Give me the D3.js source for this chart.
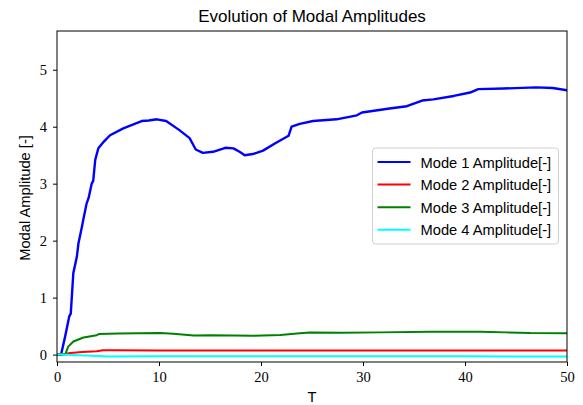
<!DOCTYPE html>
<html>
<head>
<meta charset="utf-8">
<script src="https://cdn.jsdelivr.net/npm/d3@7"></script>
<style>
  html, body { margin: 0; padding: 0; background: #fff; }
  svg { display: block; }
</style>
</head>
<body>
<svg id="chart" width="583" height="405"></svg>
<script>
// Modal amplitude histories over time T
const mode1T   = [0, 0.4, 0.8, 1.2, 1.35, 1.6, 1.95, 2.1, 2.45, 2.6, 2.9, 3.1, 3.4, 3.55, 3.75, 4.05, 4.5, 5.2, 6.5, 8.3, 9.0, 9.8, 10.7, 12.0, 13.0, 13.3, 13.6, 14.3, 15.3, 16.5, 17.3, 17.9, 18.4, 19.2, 20.2, 21.4, 22.7, 23.0, 23.8, 25.1, 27.4, 29.4, 29.9, 32.6, 34.3, 35.8, 36.9, 38.9, 40.5, 41.3, 43.8, 47.0, 48.6, 50];
const mode1Amp = [0, 0, 0.32, 0.67, 0.72, 1.43, 1.72, 1.95, 2.25, 2.39, 2.65, 2.75, 3.0, 3.05, 3.42, 3.62, 3.72, 3.85, 3.97, 4.1, 4.11, 4.13, 4.1, 3.94, 3.8, 3.7, 3.6, 3.54, 3.56, 3.63, 3.62, 3.56, 3.5, 3.52, 3.58, 3.71, 3.84, 4.0, 4.05, 4.1, 4.13, 4.2, 4.25, 4.32, 4.36, 4.46, 4.48, 4.54, 4.6, 4.66, 4.67, 4.69, 4.68, 4.64];

const mode2T   = [0, 0.5, 1.3, 2.5, 3.9, 4.5, 6, 10, 20, 30, 40, 45, 50];
const mode2Amp = [0, 0, 0.03, 0.045, 0.06, 0.075, 0.075, 0.072, 0.07, 0.072, 0.073, 0.072, 0.07];

const mode3T   = [0, 0.8, 1.1, 1.6, 2.6, 3.6, 3.9, 4.1, 6, 8, 10.1, 11.4, 13.4, 15, 17.3, 19.2, 21.9, 23.8, 24.8, 28, 31.7, 36.6, 41.5, 44, 46.4, 50];
const mode3Amp = [0, 0, 0.14, 0.23, 0.3, 0.33, 0.34, 0.36, 0.37, 0.375, 0.378, 0.365, 0.335, 0.34, 0.335, 0.33, 0.345, 0.375, 0.386, 0.385, 0.39, 0.4, 0.4, 0.39, 0.378, 0.375];

const mode4T   = [0, 0.5, 2, 3.5, 5, 10, 20, 30, 40, 50];
const mode4Amp = [0, 0, -0.01, -0.02, -0.032, -0.03, -0.028, -0.028, -0.03, -0.035];

const seriesNames  = ["Mode 1 Amplitude[-]", "Mode 2 Amplitude[-]", "Mode 3 Amplitude[-]", "Mode 4 Amplitude[-]"];
const seriesColors = ["#0000ff", "#ff0000", "#008000", "#00ffff"];
const xTicks = [0, 10, 20, 30, 40, 50];
const yTicks = [0, 1, 2, 3, 4, 5];

const series = [
  { t: mode1T, v: mode1Amp },
  { t: mode2T, v: mode2Amp },
  { t: mode3T, v: mode3Amp },
  { t: mode4T, v: mode4Amp }
].map((s, i) => ({
  name: seriesNames[i],
  color: seriesColors[i],
  points: s.t.map((t, j) => [t, s.v[j]])
}));

const svg = d3.select("#chart");
const margin = { left: 57, right: 16, top: 31, bottom: 43 };
const W = 583, H = 405;
const plotW = W - margin.left - margin.right;
const plotH = H - margin.top - margin.bottom;

const x = d3.scaleLinear().domain([0, 50]).range([0, plotW]);
const y = d3.scaleLinear().domain([-0.13, 5.68]).range([plotH, 0]);

const serif = "'Liberation Serif', 'DejaVu Serif', serif";
const sans = "'Liberation Sans', 'DejaVu Sans', sans-serif";

const g = svg.append("g").attr("transform", `translate(${margin.left},${margin.top})`);

g.append("defs").append("clipPath").attr("id", "plotClip")
  .append("rect").attr("width", plotW).attr("height", plotH);

// Lines
const line = d3.line().x(d => x(d[0])).y(d => y(d[1]));
g.append("g").attr("clip-path", "url(#plotClip)")
  .selectAll("path").data(series).join("path")
  .attr("d", d => line(d.points))
  .attr("fill", "none")
  .attr("stroke", d => d.color)
  .attr("stroke-width", (d, i) => i === 0 ? 2.4 : 2)
  .attr("stroke-linejoin", "round")
  .attr("stroke-linecap", "round");

// Axes
const xAxis = g.append("g").attr("transform", `translate(0,${plotH})`)
  .call(d3.axisBottom(x).tickValues(xTicks).tickSize(4).tickPadding(6).tickFormat(d3.format("d")));
const yAxis = g.append("g")
  .call(d3.axisLeft(y).tickValues(yTicks).tickSize(4).tickPadding(6).tickFormat(d3.format("d")));
[xAxis, yAxis].forEach(a => {
  a.select(".domain").remove();
  a.selectAll("line").attr("stroke", "#000").attr("stroke-width", 1);
  a.selectAll("text").attr("font-family", serif).attr("font-size", 14.5).attr("fill", "#000");
});

// Frame
g.append("rect").attr("width", plotW).attr("height", plotH)
  .attr("fill", "none").attr("stroke", "#000").attr("stroke-width", 1);

// Title and axis labels
svg.append("text").attr("x", margin.left + plotW / 2).attr("y", 21.5)
  .attr("text-anchor", "middle").attr("font-family", sans).attr("font-size", 17)
  .text("Evolution of Modal Amplitudes");
svg.append("text").attr("x", margin.left + plotW / 2).attr("y", 402)
  .attr("text-anchor", "middle").attr("font-family", sans).attr("font-size", 14.7)
  .text("T");
svg.append("text")
  .attr("transform", "translate(30,198) rotate(-90)")
  .attr("text-anchor", "middle").attr("font-family", sans).attr("font-size", 14.7)
  .text("Modal Amplitude [-]");

// Legend
const legX = 372.5 - margin.left, legY = 148 - margin.top;
const leg = g.append("g").attr("transform", `translate(${legX},${legY})`);
leg.append("rect").attr("width", 186).attr("height", 96).attr("rx", 3)
  .attr("fill", "#fff").attr("fill-opacity", 0.8)
  .attr("stroke", "#d0d0d0").attr("stroke-width", 1);
const items = leg.selectAll("g.item").data(series).join("g")
  .attr("class", "item")
  .attr("transform", (d, i) => `translate(0,${14 + i * 22.6})`);
items.append("line").attr("x1", 5).attr("x2", 38).attr("y1", 0).attr("y2", 0)
  .attr("stroke", d => d.color).attr("stroke-width", 2);
items.append("text").attr("x", 48).attr("y", 5.5)
  .attr("font-family", sans).attr("font-size", 14.7).attr("fill", "#000")
  .text(d => d.name);
</script>
</body>
</html>
